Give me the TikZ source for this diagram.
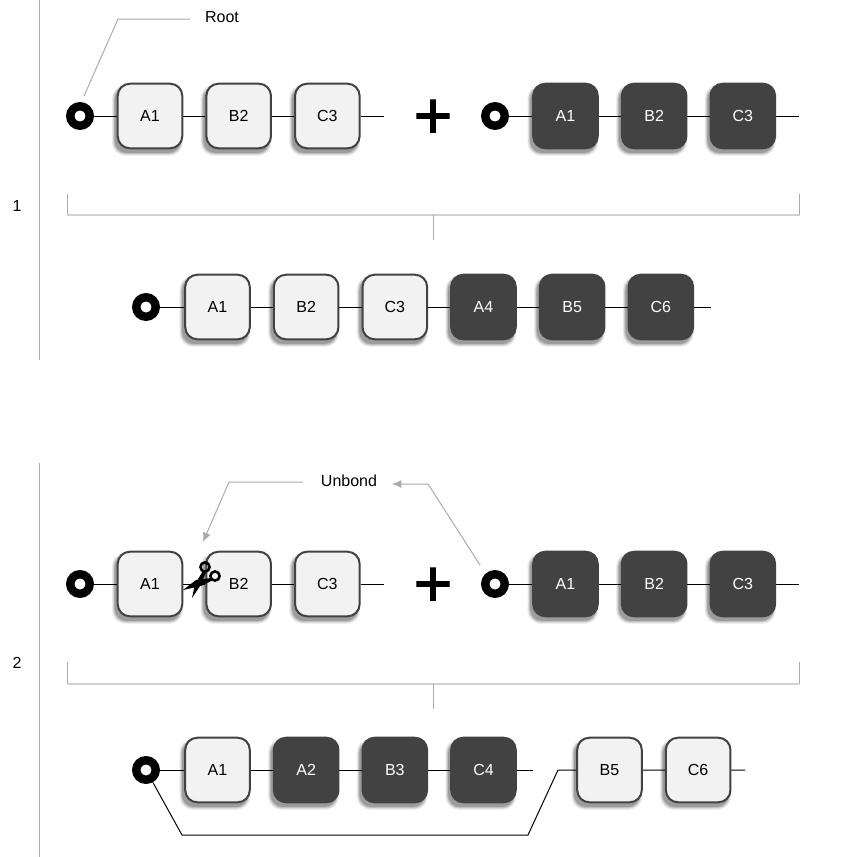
\documentclass[tikz,border=0pt]{standalone}
\usepackage{fontspec}
\setmainfont{Liberation Sans}
\newfontfamily\plusfont[FakeBold=1.4]{Liberation Sans}
\usetikzlibrary{positioning, arrows.meta, shadows}

\tikzset{softshadow/.style = { general shadow = {shadow xshift = -1.8pt, shadow yshift = -3pt, shadow scale = 1.10, opacity = .05, fill = black}
                             , general shadow = {shadow xshift = -1.8pt, shadow yshift = -3pt, shadow scale = 1.08, opacity = .07, fill = black}
                             , general shadow = {shadow xshift = -1.8pt, shadow yshift = -3pt, shadow scale = 1.06, opacity = .09, fill = black}
                             , general shadow = {shadow xshift = -1.8pt, shadow yshift = -3pt, shadow scale = 1.04, opacity = .11, fill = black}
                             , general shadow = {shadow xshift = -1.8pt, shadow yshift = -3pt, shadow scale = 1.02, opacity = .14, fill = black}}}
\definecolor{lightbox}{HTML}{F2F2F2}
\definecolor{darkbox}{HTML}{424242}
\definecolor{leader}{HTML}{ABABAB}

\begin{document}
\begin{tikzpicture}[ x = 0.75pt
                   , y = -0.75pt
                   , node distance = 16.6pt
                   , font = \fontsize{12pt}{14pt}\selectfont
                   , lightnode/.style = { softshadow, rectangle, rounded corners = 9pt, draw = darkbox
                                        , line width = 1.5pt, fill = lightbox, text = black
                                        , minimum size = 48.4pt, inner sep = 0pt }
                   , darknode/.style = { lightnode, fill = darkbox, text = white }
                   , rootnode/.style = { circle, draw = black, line width = 6.3pt, fill = white
                                       , minimum size = 14.6pt, inner sep = 0pt }
                   , plusnode/.style = { inner sep = 0pt, font = \fontsize{50pt}{50pt}\plusfont\selectfont }
                   , chain/.style = { draw = black, line width = 0.75pt }
                   , ruler/.style = { draw = leader, line width = 0.75pt }
                   , bar/.style = { draw = black!18, line width = 1.5pt }
                   , callout/.style = { draw = leader, line width = 0.75pt }
                   , tip/.style = { -{Latex[width = 6pt, length = 7pt]} }
                   ]

  \useasboundingbox (0,0) rectangle (861,857);

  % section 1
  \node (num1) at (17,206) {1};
  \draw[ruler] (39.5,0) -- (39.5,360);

  \node (root1) [rootnode] at (80,116) {};
  \node (a1) [lightnode] at (150,116) {A1};
  \node (b1) [lightnode, right = of a1] {B2};
  \node (c1) [lightnode, right = of b1] {C3};
  \coordinate (end1) at (384,116);

  \node (plus1) [plusnode] at (433,119) {+};

  \node (root2) [rootnode] at (495,116) {};
  \node (a2) [darknode] at (565.5,116) {A1};
  \node (b2) [darknode, right = of a2] {B2};
  \node (c2) [darknode, right = of b2] {C3};
  \coordinate (end2) at (799,116);

  \draw[chain] (root1) -- (a1) -- (b1) -- (c1) -- (end1);
  \draw[chain] (root2) -- (a2) -- (b2) -- (c2) -- (end2);

  \node (rootlabel) at (222,17) {Root};
  \coordinate (rootfoot) at (84,96);
  \draw[callout] (rootfoot) -- (118,19) -- (190,19);

  \draw[ruler] (67.5,194) -- (67.5,215);
  \draw[ruler] (799.5,194) -- (799.5,215);
  \draw[bar] (67,215) -- (800,215);
  \draw[ruler] (433.5,215) -- (433.5,240);

  \node (root3) [rootnode] at (146,307) {};
  \node (a3) [lightnode] at (217.5,307) {A1};
  \node (b3) [lightnode, right = of a3] {B2};
  \node (c3) [lightnode, right = of b3] {C3};
  \node (d3) [darknode, right = of c3] {A4};
  \node (e3) [darknode, right = of d3] {B5};
  \node (f3) [darknode, right = of e3] {C6};
  \coordinate (end3) at (711,307);

  \draw[chain] (root3) -- (a3) -- (b3) -- (c3) -- (d3) -- (e3) -- (f3) -- (end3);

  % section 2
  \node (num2) at (17,663) {2};
  \draw[ruler] (39.5,463) -- (39.5,857);

  \node (root4) [rootnode] at (80,584) {};
  \node (a4) [lightnode] at (150,584) {A1};
  \node (b4) [lightnode, right = of a4] {B2};
  \node (c4) [lightnode, right = of b4] {C3};
  \coordinate (end4) at (384,584);

  \node (plus2) [plusnode] at (433,587) {+};

  \node (root5) [rootnode] at (495,584) {};
  \node (a5) [darknode] at (565.5,584) {A1};
  \node (b5) [darknode, right = of a5] {B2};
  \node (c5) [darknode, right = of b5] {C3};
  \coordinate (end5) at (799,584);

  \draw[chain] (root4) -- (a4) -- (b4) -- (c4) -- (end4);
  \draw[chain] (root5) -- (a5) -- (b5) -- (c5) -- (end5);

  % scissors
  \draw[black, line width = 1.9pt] (205,567) circle [radius = 4.6];
  \draw[black, line width = 1.9pt] (215,576) circle [radius = 4.6];
  \fill[black] (203,571) -- (206.5,571.5) -- (200,586) -- (192,598) -- (195,584) -- cycle;
  \fill[black] (211,578) -- (212,580.5) -- (201,586) -- (183,590) -- (196,580) -- cycle;

  \node (unbond) at (349,481) {Unbond};
  \coordinate (cutpoint) at (203,542);
  \coordinate (unbondtip) at (392,484);
  \coordinate (rootfoot2) at (480,565);
  \draw[callout, tip] (303,482) -- (229,482) -- (cutpoint);
  \draw[callout, tip] (rootfoot2) -- (428,484) -- (unbondtip);

  \draw[ruler] (67.5,662) -- (67.5,684);
  \draw[ruler] (799.5,662) -- (799.5,684);
  \draw[bar] (67,684) -- (800,684);
  \draw[ruler] (433.5,684) -- (433.5,709);

  \node (root6) [rootnode] at (146,770) {};
  \node (a6) [lightnode] at (217.5,770) {A1};
  \node (b6) [darknode, right = of a6] {A2};
  \node (c6) [darknode, right = of b6] {B3};
  \node (d6) [darknode, right = of c6] {C4};
  \coordinate (end6) at (533,770);
  \node (e6) [lightnode] at (609.5,770) {B5};
  \node (f6) [lightnode, right = of e6] {C6};
  \coordinate (end7) at (745,770);

  \draw[chain] (root6) -- (a6) -- (b6) -- (c6) -- (d6) -- (end6);
  \draw[chain] (root6) -- (182,835) -- (528,835) -- (558,770) -- (e6) -- (f6) -- (end7);

\end{tikzpicture}
\end{document}
